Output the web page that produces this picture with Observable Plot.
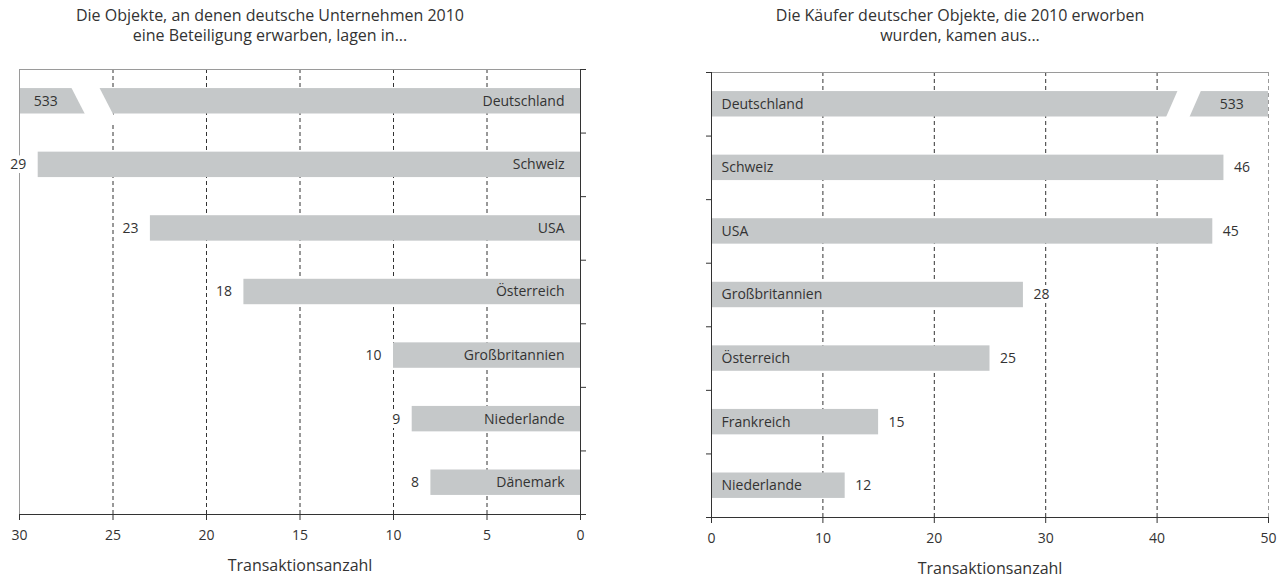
<!DOCTYPE html>
<html lang="de">
<head>
<meta charset="utf-8">
<script src="https://cdn.jsdelivr.net/npm/d3@7"></script>
<script src="https://cdn.jsdelivr.net/npm/@observablehq/plot@0.6"></script>
<style>
  body { margin: 0; background: #fff; font-family: "Open Sans", sans-serif; color: #333; }
  #page { position: relative; width: 1286px; height: 583px; overflow: hidden; background: #fff; }
  .title { position: absolute; top: 5px; font-size: 16px; line-height: 20px; text-align: center; }
  .panel { position: absolute; top: 50px; }
</style>
</head>
<body>
<div id="page">
  <div class="title" style="left:0;width:540px">Die Objekte, an denen deutsche Unternehmen 2010<br>eine Beteiligung erwarben, lagen in...</div>
  <div class="title" style="left:640px;width:640px">Die Käufer deutscher Objekte, die 2010 erworben<br>wurden, kamen aus...</div>
  <div class="panel" id="left" style="left:0"></div>
  <div class="panel" id="right" style="left:643px"></div>
</div>
<script>
// Where German companies bought stakes in 2010 (target countries)
const targetCountries = ["Deutschland", "Schweiz", "USA", "Österreich", "Großbritannien", "Niederlande", "Dänemark"];
const targetDeals = [533, 29, 23, 18, 10, 9, 8];

// Where the buyers of German targets came from in 2010
const buyerCountries = ["Deutschland", "Schweiz", "USA", "Großbritannien", "Österreich", "Frankreich", "Niederlande"];
const buyerDeals = [533, 46, 45, 28, 25, 15, 12];

const targetTicks = [30, 25, 20, 15, 10, 5, 0];
const buyerTicks = [0, 10, 20, 30, 40, 50];
const axisTitle = "Transaktionsanzahl";

const BAR = "#c5c8c9";
const INK = "#333333";
const FRAME = "#9a9a9a";
const FONT = 14;

const rowsOf = (cats, vals) => cats.map((category, row) => ({category, value: vals[row], row}));
const mid = (d) => d.row + 0.5;

// White slanted gap that marks a bar running off the scale.
// a/b: gap edges (in x units) at the bar's top edge; s: x shift per row unit.
function gapPolygon(row, a, b, s) {
  const y0 = 0.25, y1 = 0.84, top = 0.3;
  const at = (x, y) => ({x: x + s * (y - top), y: row + y});
  return [at(a, y0), at(b, y0), at(b, y1), at(a, y1), at(a, y0)];
}

function chart({data, max, ticks, grid, reverse, marginLeft, marginRight, marginTop, gap, labelRow}) {
  const visible = data.filter((d) => d.value <= max);
  const broken = data.filter((d) => d.value > max);
  const gapEdge = gap.b + gap.s * labelRow;
  return Plot.plot({
    width: 643,
    height: marginTop + 445 + 60,
    marginLeft, marginRight, marginTop, marginBottom: 60,
    style: {fontFamily: "Open Sans, sans-serif", fontSize: FONT + "px", color: INK, background: "white", overflow: "visible"},
    x: {domain: [0, max], reverse},
    y: {domain: [7, 0]},
    marks: [
      Plot.ruleX(grid, {stroke: INK, strokeDasharray: "4,3"}),
      Plot.rectX(data, {x1: () => 0, x2: "value", y1: (d) => d.row + 0.3, y2: (d) => d.row + 0.7, fill: BAR, clip: true}),
      ...broken.map((d) => Plot.line(gapPolygon(d.row, gap.a, gap.b, gap.s), {x: "x", y: "y", fill: "white", stroke: "none"})),
      // frame: light top edge and far edge, dark value axis and zero axis
      Plot.ruleY([0], {stroke: FRAME}),
      reverse ? Plot.ruleX([max], {stroke: FRAME}) : Plot.ruleX([max], {stroke: FRAME, strokeDasharray: "4,3"}),
      Plot.ruleY([7], {stroke: INK}),
      Plot.ruleX([0], {stroke: INK}),
      Plot.axisX({ticks, tickSize: 6, tickPadding: 10, tickFormat: (d) => String(d), fontSize: FONT, label: null, stroke: INK, fill: INK}),
      Plot.axisY({anchor: reverse ? "right" : "left", ticks: d3.range(8), tickSize: 5, tickFormat: () => "", label: null, stroke: INK}),
      // country names inside the bars
      Plot.text(data, {x: () => 0, y: mid, text: "category", textAnchor: reverse ? "end" : "start", dx: reverse ? -16 : 10, fill: INK, fontSize: FONT}),
      // values at the bar ends
      Plot.text(visible, {x: "value", y: mid, text: (d) => String(d.value), textAnchor: reverse ? "end" : "start", dx: reverse ? -12 : 10,
        fill: INK, stroke: "white", strokeWidth: 8, paintOrder: "stroke", fontSize: FONT}),
      // value of the off-scale bar, centred in its cut-off end piece
      Plot.text(broken, {x: () => (max + gapEdge) / 2, y: mid, text: (d) => String(d.value), fill: INK, fontSize: FONT}),
      Plot.text([axisTitle], {frameAnchor: "bottom", dy: 56, text: (d) => d, fill: INK, fontSize: 16})
    ]
  });
}

document.getElementById("left").append(chart({
  data: rowsOf(targetCountries, targetDeals), max: 30, ticks: targetTicks, grid: [5, 10, 15, 20, 25], reverse: true,
  marginLeft: 19, marginRight: 63, marginTop: 19, gap: {a: 25.7, b: 27.2, s: -1.75}, labelRow: 0
}));

document.getElementById("right").append(chart({
  data: rowsOf(buyerCountries, buyerDeals), max: 50, ticks: buyerTicks, grid: [10, 20, 30, 40], reverse: false,
  marginLeft: 68, marginRight: 18, marginTop: 22, gap: {a: 41.8, b: 43.9, s: -2.5}, labelRow: 0.2
}));
</script>
</body>
</html>
